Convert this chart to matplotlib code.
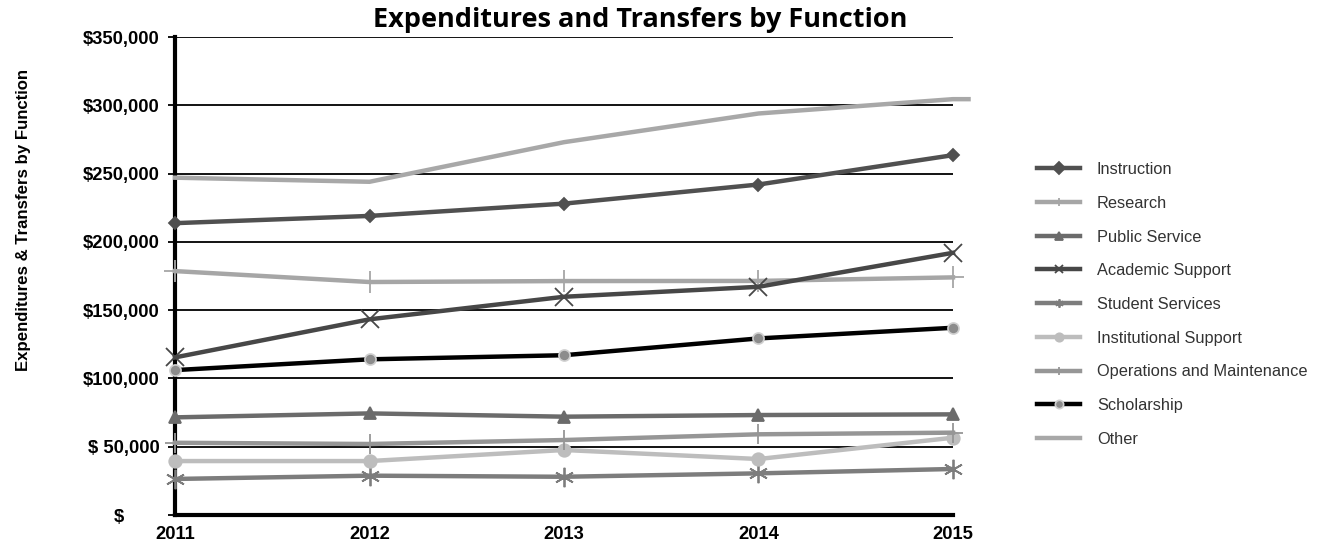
import matplotlib.pyplot as plt

years = [2011, 2012, 2013, 2014, 2015]

instruction = [213700, 219000, 228000, 242000, 263500]
research = [178600, 170600, 171300, 171400, 174000]
public_service = [71500, 74400, 72000, 73200, 73700]
academic_support = [115400, 143300, 159800, 167100, 192000]
student_services = [26400, 28800, 28000, 30500, 33700]
institutional_support = [39500, 39500, 47600, 41000, 56600]
operations = [52900, 52000, 54900, 59100, 60300]
scholarship = [106100, 114000, 117000, 129300, 137100]
other = [247000, 244000, 273000, 294000, 304500]

y_ticks = [0, 50000, 100000, 150000, 200000, 250000, 300000, 350000]
y_labels = ['$       ', '$ 50,000', '$100,000', '$150,000', '$200,000',
            '$250,000', '$300,000', '$350,000']

# name, values, color, marker, marker size
series = [
    ('Instruction', instruction, '#505050', 'D', 6),
    ('Research', research, '#a6a6a6', '+', 16),
    ('Public Service', public_service, '#6b6b6b', '^', 8),
    ('Academic Support', academic_support, '#474747', 'x', 13),
    ('Student Services', student_services, '#7d7d7d', (6, 2, 0), 14),
    ('Institutional Support', institutional_support, '#bdbdbd', 'o', 9),
    ('Operations and Maintenance', operations, '#969696', '+', 14),
    ('Scholarship', scholarship, '#000000', 'o', 8),
    ('Other', other, '#a8a8a8', None, 0),
]

fig = plt.figure(figsize=(13.19, 5.42), dpi=100)
ax = fig.add_axes([0.1327, 0.0498, 0.5898, 0.8819])

for name, vals, col, mk, ms in series:
    if name == 'Scholarship':
        ax.plot(years, vals, color=col, lw=3.2, marker='o', ms=ms,
                mfc='#8c8c8c', mec='#d0d0d0', mew=1.2, label=name,
                clip_on=False, zorder=3)
    elif mk is None:
        ax.plot(years + [2015.08], vals + [vals[-1]], color=col, lw=3.2,
                label=name, clip_on=False, zorder=3)
    else:
        ax.plot(years, vals, color=col, lw=3.2, marker=mk, ms=ms,
                mew=1.3, label=name, clip_on=False, zorder=3)

ax.set_xlim(2011, 2015)
ax.set_ylim(0, 350000)
ax.set_xticks(years)
ax.set_xticklabels([str(y) for y in years], fontweight='bold',
                   fontsize=13.2, family='Liberation Sans')
ax.set_yticks(y_ticks)
ax.set_yticklabels(y_labels, fontweight='bold', fontsize=13.2,
                   family='Liberation Sans')
ax.yaxis.grid(True, color='black', lw=1.3)
ax.set_axisbelow(True)
ax.tick_params(axis='y', length=5, width=1.3, pad=6)
ax.tick_params(axis='x', length=0, pad=8)
for s in ['top', 'right']:
    ax.spines[s].set_visible(False)
for s in ['left', 'bottom']:
    ax.spines[s].set_linewidth(3)

ax.set_ylabel('Expenditures & Transfers by Function', fontweight='bold',
              fontsize=12.1, family='Liberation Sans')
ax.yaxis.set_label_coords(-0.185, 0.617)

fig.text(0.485, 0.964, 'Expenditures and Transfers by Function',
         ha='center', va='center', fontsize=19.5, fontweight='bold',
         family='Open Sans')

leg = fig.legend(loc='upper left', bbox_to_anchor=(0.775, 0.728),
                 frameon=False, handlelength=2.65,
                 labelspacing=1.14, handletextpad=1.0,
                 prop={'family': 'Liberation Sans', 'size': 11.8})
for h in leg.legend_handles:
    h.set_markersize(6)
for t in leg.get_texts():
    t.set_color('#333333')

fig.savefig('out.png', dpi=100)
